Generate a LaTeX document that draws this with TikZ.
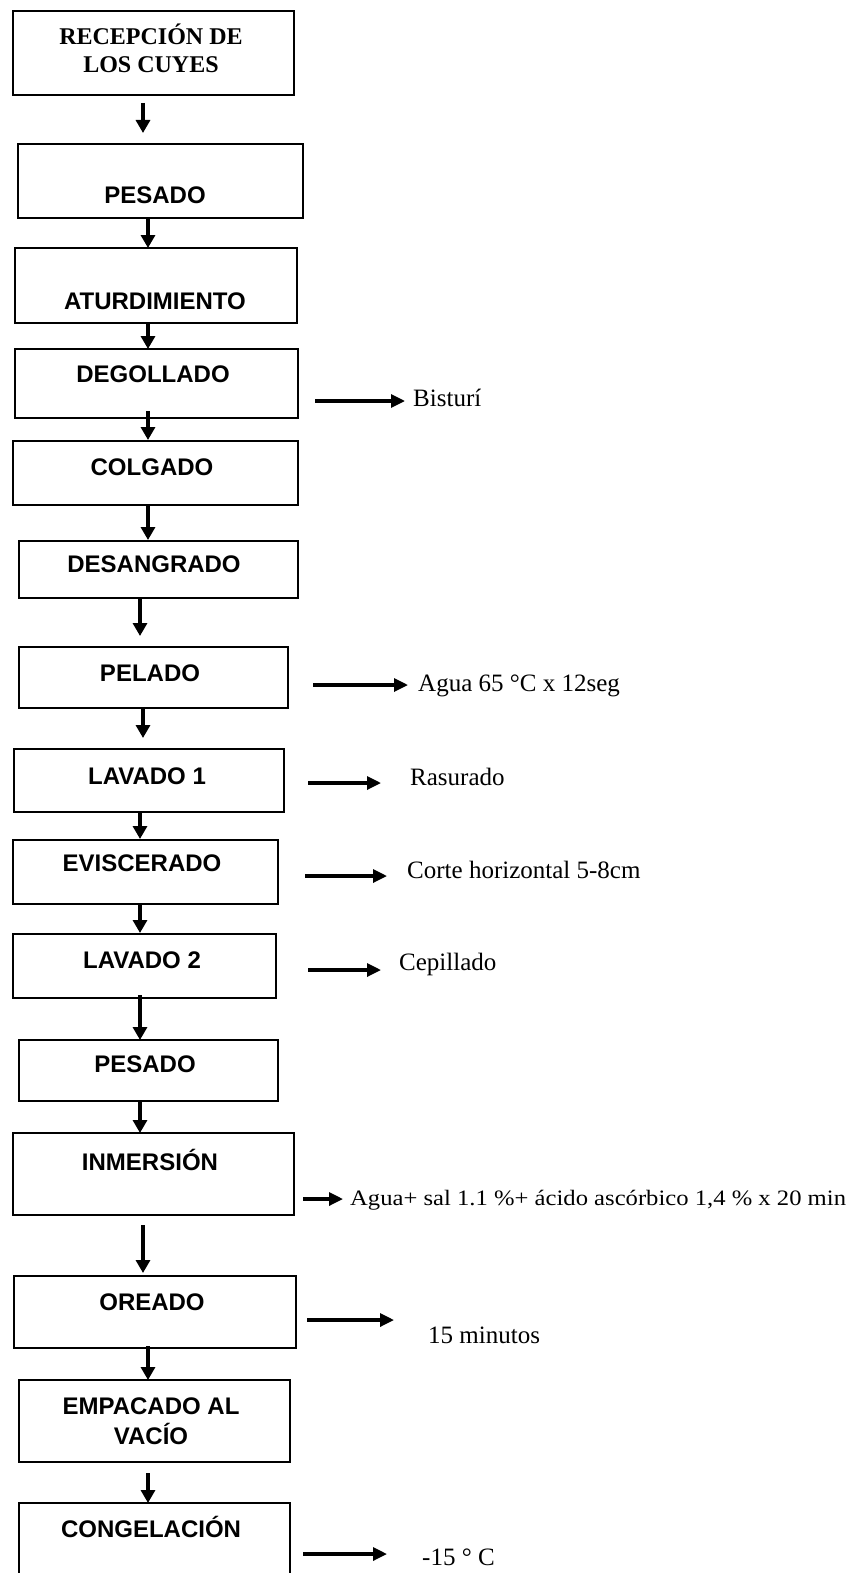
\documentclass[tikz,border=0pt]{standalone}
\usepackage{fontspec}
\setmainfont{Liberation Serif}
\newfontfamily\lsans{Liberation Sans}
\usetikzlibrary{arrows.meta}
\tikzset{
  box/.style={draw, line width=1.6pt, inner sep=0pt, outer sep=0pt},
  lbl/.style={font=\lsans\bfseries\fontsize{24}{28}\selectfont, anchor=base, inner sep=0pt},
  lblser/.style={font=\bfseries\fontsize{24}{28}\selectfont, anchor=base, inner sep=0pt},
  side/.style={font=\fontsize{25}{30}\selectfont, anchor=base west, inner sep=0pt},
  varr/.style={line width=3.2pt, -{Triangle[width=14pt,length=13pt]}},
  sarr/.style={line width=3.2pt, -{Triangle[width=13pt,length=14pt]}}
}
\begin{document}
\begin{tikzpicture}[x=1pt,y=-1pt]
\useasboundingbox (0,0) rectangle (851,1573);
\fill[white] (0,0) rectangle (851,1573);
\clip (0,0) rectangle (851,1573);

% boxes
\node[box, minimum width=281pt, minimum height=84pt] (b1) at (153.5,53) {};
\node[box, minimum width=285pt, minimum height=74pt] (b2) at (160.5,181) {};
\node[box, minimum width=282pt, minimum height=75pt] (b3) at (156,285.5) {};
\node[box, minimum width=283pt, minimum height=69pt] (b4) at (156.5,383.5) {};
\node[box, minimum width=285pt, minimum height=64pt] (b5) at (155.5,473) {};
\node[box, minimum width=279pt, minimum height=57pt] (b6) at (158.5,569.5) {};
\node[box, minimum width=269pt, minimum height=61pt] (b7) at (153.5,677.5) {};
\node[box, minimum width=270pt, minimum height=63pt] (b8) at (149,780.5) {};
\node[box, minimum width=265pt, minimum height=64pt] (b9) at (145.5,872) {};
\node[box, minimum width=263pt, minimum height=64pt] (b10) at (144.5,966) {};
\node[box, minimum width=259pt, minimum height=61pt] (b11) at (148.5,1070.5) {};
\node[box, minimum width=281pt, minimum height=82pt] (b12) at (153.5,1174) {};
\node[box, minimum width=282pt, minimum height=72pt] (b13) at (155,1312) {};
\node[box, minimum width=271pt, minimum height=82pt] (b14) at (154.5,1421) {};
\node[box, minimum width=271pt, minimum height=97pt] (b15) at (154.5,1551.5) {};

% labels
\node[lblser] (l1a) at (151,45) {RECEPCIÓN DE};
\node[lblser] (l1b) at (151,73) {LOS CUYES};
\node[lbl] (l2) at (155,204) {PESADO};
\node[lbl] (l3) at (155,309) {ATURDIMIENTO};
\node[lbl] (l4) at (153,382) {DEGOLLADO};
\node[lbl] (l5) at (152,475) {COLGADO};
\node[lbl] (l6) at (154,572) {DESANGRADO};
\node[lbl] (l7) at (150,681) {PELADO};
\node[lbl] (l8) at (147,784) {LAVADO 1};
\node[lbl] (l9) at (142,871) {EVISCERADO};
\node[lbl] (l10) at (142,968) {LAVADO 2};
\node[lbl] (l11) at (145,1072) {PESADO};
\node[lbl] (l12) at (150,1170) {INMERSIÓN};
\node[lbl] (l13) at (152,1310) {OREADO};
\node[lbl] (l14a) at (151,1414) {EMPACADO AL};
\node[lbl] (l14b) at (151,1444) {VACÍO};
\node[lbl] (l15) at (151,1537) {CONGELACIÓN};

% vertical arrows
\draw[varr] ([xshift=-10.5pt,yshift=-8pt]b1.south) -- ([xshift=-17.5pt,yshift=11pt]b2.north);
\draw[varr] ([xshift=-12.5pt]b2.south) -- ([xshift=-8pt]b3.north);
\draw[varr] ([xshift=-8pt]b3.south) -- ([xshift=-8.5pt]b4.north);
\draw[varr] ([xshift=-8.5pt,yshift=7pt]b4.south) -- ([xshift=-7.5pt,yshift=1pt]b5.north);
\draw[varr] ([xshift=-7.5pt]b5.south) -- ([xshift=-10.5pt,yshift=1pt]b6.north);
\draw[varr] ([xshift=-18.5pt]b6.south) -- ([xshift=-13.5pt,yshift=11pt]b7.north);
\draw[varr] ([xshift=-10.5pt]b7.south) -- ([xshift=-6pt,yshift=11pt]b8.north);
\draw[varr] ([xshift=-9pt]b8.south) -- ([xshift=-5.5pt,yshift=1pt]b9.north);
\draw[varr] ([xshift=-5.5pt]b9.south) -- ([xshift=-4.5pt,yshift=1pt]b10.north);
\draw[varr] ([xshift=-4.5pt,yshift=3pt]b10.south) -- ([xshift=-8.5pt]b11.north);
\draw[varr] ([xshift=-8.5pt]b11.south) -- ([xshift=-13.5pt]b12.north);
\draw[varr] ([xshift=-10.5pt,yshift=-10pt]b12.south) -- ([xshift=-12pt,yshift=3pt]b13.north);
\draw[varr] ([xshift=-7pt,yshift=2pt]b13.south) -- ([xshift=-6.5pt]b14.north);
\draw[varr] ([xshift=-6.5pt,yshift=-11pt]b14.south) -- ([xshift=-6.5pt]b15.north);

% side notes
\node[side] (t1) at (413,406) {Bisturí};
\node[side] (t2) at (418,691) {Agua 65 °C x 12seg};
\node[side] (t3) at (410,785) {Rasurado};
\node[side] (t4) at (407,878) {Corte horizontal 5-8cm};
\node[side] (t5) at (399,970) {Cepillado};
\node[side, font=\fontsize{22}{26}\selectfont] (t6) at (350,1205) {\scalebox{1.12}[1]{Agua+ sal 1.1 \%+ ácido ascórbico 1,4 \% x 20 min}};
\node[side] (t7) at (428,1343) {15 minutos};
\node[side] (t8) at (422,1565) {-15 ° C};

\coordinate (s1s) at (315,401); \coordinate (s1e) at (405,401);
\coordinate (s2s) at (313,685); \coordinate (s2e) at (408,685);
\coordinate (s3s) at (308,783); \coordinate (s3e) at (381,783);
\coordinate (s4s) at (305,876); \coordinate (s4e) at (387,876);
\coordinate (s5s) at (308,970); \coordinate (s5e) at (381,970);
\coordinate (s6s) at (303,1199); \coordinate (s6e) at (343,1199);
\coordinate (s7s) at (307,1320); \coordinate (s7e) at (394,1320);
\coordinate (s8s) at (303,1554); \coordinate (s8e) at (387,1554);
\draw[sarr] (s1s) -- (s1e);
\draw[sarr] (s2s) -- (s2e);
\draw[sarr] (s3s) -- (s3e);
\draw[sarr] (s4s) -- (s4e);
\draw[sarr] (s5s) -- (s5e);
\draw[sarr] (s6s) -- (s6e);
\draw[sarr] (s7s) -- (s7e);
\draw[sarr] (s8s) -- (s8e);
\end{tikzpicture}
\end{document}
